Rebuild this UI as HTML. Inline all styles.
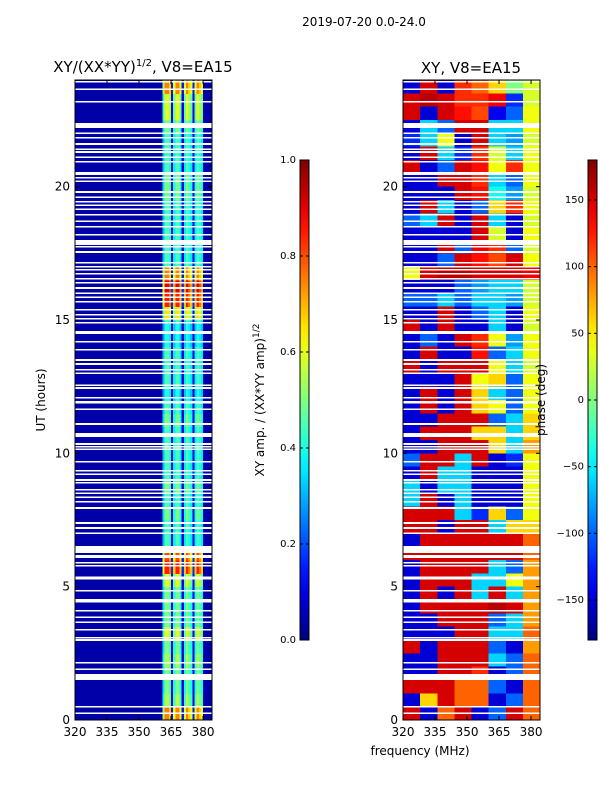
<!DOCTYPE html>
<html><head><meta charset="utf-8"><style>
body{margin:0;background:#fff;}
svg text{font-family:"DejaVu Sans","Liberation Sans",sans-serif;fill:#000;}
</style></head><body>
<svg id="fig" width="600" height="800" viewBox="0 0 600 800" xmlns="http://www.w3.org/2000/svg">
<text x="364" y="26" font-size="12" text-anchor="middle">2019-07-20 0.0-24.0</text>
<text x="143" y="72" font-size="15" text-anchor="middle">XY/(XX*YY)<tspan font-size="10" dy="-6">1/2</tspan><tspan dy="6">, V8=EA15</tspan></text>
<text x="471" y="73" font-size="15" text-anchor="middle">XY, V8=EA15</text>
<text transform="translate(45,400) rotate(-90)" font-size="12" text-anchor="middle">UT (hours)</text>
<text x="420" y="755" font-size="12" text-anchor="middle">frequency (MHz)</text>
<text transform="translate(264,400) rotate(-90)" font-size="12" text-anchor="middle">XY amp. / (XX*YY amp)<tspan font-size="9" dy="-5">1/2</tspan></text>
<rect x="75" y="80" width="137" height="640" fill="#00008f"/>
<g id="amp" shape-rendering="crispEdges"></g>
<g id="ph" shape-rendering="crispEdges"></g>
<g id="flags" shape-rendering="crispEdges"></g>
<g id="cb"></g>
<g id="axes"></g>
<text transform="translate(545,400) rotate(-90)" font-size="12" text-anchor="middle">phase (deg)</text>
</svg>
<script>
// ---- data ----
const freqStart = 320, freqEnd = 384.2, tHours = 24;
const xTicks = [320, 335, 350, 365, 380];
const yTicks = [0, 5, 10, 15, 20];
const ampTicks = [0.0, 0.2, 0.4, 0.6, 0.8, 1.0];
const phaseTicks = [-150, -100, -50, 0, 50, 100, 150];
// channel profile, 1 MHz channels 320..383
const chanProfile = [0,0,0,0,0,0,0,0,0,0,0,0,0,0,0,0,0,0,0,0,0,0,0,0,0,0,0,0,0,0,0,0,0,0,0,0,0,0,0,0,0,
  0.7,1,1,0.9,0.2,0.8,1,1,0.8,0.2,0.8,1,0.9,0.8,0.2,0.8,1,0.9,0.8, 0,0,0,0];
// amplitude level per half hour (0h upward)
const ampLevel = [0.75,0.55,0.5,0.5,0.55,0.5,0.6,0.5,0.5,0.5,0.6,0.85,0.8,0.45,0.45,0.5,0.45,0.5,0.45,0.45,0.45,0.45,0.5,0.45,
  0.4,0.45,0.45,0.45,0.4,0.4,0.65,0.85,0.9,0.75,0.45,0.45,0.45,0.45,0.45,0.5,0.5,0.45,0.45,0.45,0.5,0.6,0.6,0.75];
// phase grid: rows per half hour from 24h downward, 8 columns of 8 MHz
const phaseGrid = [
[-150,150,-150,120,100,60,0,30],[150,160,150,120,120,140,-120,30],[150,-150,150,130,110,-140,-100,40],
[-150,-60,-100,150,150,-60,-60,40],[-120,-60,40,-150,150,-60,-80,30],[-150,150,-60,-120,120,30,-60,40],
[150,-150,-100,150,130,40,120,40],[-150,-150,150,150,120,-60,-100,40],[-150,-150,-150,150,130,-40,-80,30],
[-150,150,-60,-150,-100,60,120,40],[-100,-60,150,-150,150,-60,-150,30],[-150,-150,-150,-150,150,30,-150,40],
[-150,-150,150,-100,140,120,-100,30],[-150,-150,-100,150,130,110,150,40],[40,150,160,160,150,150,150,140],
[-150,-150,-150,-100,-80,-60,-60,30],[-100,-100,-60,-100,-60,-60,-80,30],[-150,-150,150,-150,-100,-60,-150,40],
[150,-150,150,-150,-150,-60,-150,30],[-150,-100,-150,150,120,40,-80,40],[-150,150,-150,-150,130,-100,-60,40],
[150,-150,150,150,150,40,-60,30],[-150,-150,-150,150,40,60,-100,40],[-150,150,-150,150,60,-60,-100,40],
[-150,150,-150,150,60,40,-100,40],[-150,-150,150,150,150,-100,-60,60],[-150,150,150,150,60,60,-60,60],
[-150,-150,150,150,150,60,-60,80],[-100,150,150,-60,150,-150,-120,40],[-150,150,-60,-60,-150,-150,-150,40],
[-60,-150,-60,-60,-150,-150,-150,40],[-60,150,-150,-60,-150,-150,-150,40],[150,150,150,-60,-120,60,-100,40],
[150,150,-150,150,150,-60,60,60],[-150,150,150,150,150,150,150,100],[150,150,150,150,150,150,150,100],
[-150,150,150,150,150,-60,-100,80],[-150,150,150,150,-60,-60,40,80],[-150,150,-150,150,-60,150,-60,80],
[-150,150,150,150,150,160,150,80],[-150,-150,150,150,150,-100,-60,80],[-150,-150,-150,150,150,-60,-60,100],
[150,-150,150,150,150,-100,-150,80],[-150,-150,150,150,150,-60,-100,100],[-150,-150,150,150,120,-150,-100,100],
[150,150,150,100,100,-100,-150,100],[-150,60,150,100,100,-150,-100,100],[150,-150,100,150,-150,-100,150,100]];
// flagged rows: single-line centers (hours) and wide [start,end] intervals
const flagLines = [23.93,23.66,23.18,22.01,21.83,21.6,21.41,21.3,21.11,20.93,20.33,20.21,19.8,19.61,19.43,19.31,19.16,18.94,18.71,18.49,18.19,
 17.74,17.55,17.14,16.99,16.88,16.73,16.54,16.39,16.2,16.01,15.86,15.68,15.38,15.19,15.04,14.89,14.18,13.88,13.5,13.35,13.13,13.01,12.56,12.45,12.08,11.93,
 11.89,11.66,11.1,10.35,10.24,10.16,9.68,9.34,9.22,9.0,8.89,8.63,8.51,8.36,8.18,7.95,7.2,7.01,5.89,5.78,5.36,5.29,4.84,4.5,4.43,4.09,3.86,3.67,3.38,3.08,3.0,2.14,1.91,0.49,0.26];
const flagBands = [[22.2,22.39],[20.44,20.55],[17.81,18.0],[14.47,14.59],[10.61,10.76],[7.35,7.42],[6.26,6.53],[6.08,6.19],[1.5,1.72]];

// ---- layout ----
const NS = "http://www.w3.org/2000/svg";
const yTop = 80, yBot = 720;
const panels = [{x0:75,x1:212},{x0:403,x1:540}];
function yScale(h){ return yBot - (yBot-yTop)*h/tHours; }
function xScale(p,f){ return p.x0 + (p.x1-p.x0)*(f-freqStart)/(freqEnd-freqStart); }
function jet(v){
  v=Math.max(0,Math.min(1,v));
  const r=Math.max(0,Math.min(1,1.5-Math.abs(4*v-3)));
  const g=Math.max(0,Math.min(1,1.5-Math.abs(4*v-2)));
  const b=Math.max(0,Math.min(1,1.5-Math.abs(4*v-1)));
  return `rgb(${Math.round(r*255)},${Math.round(g*255)},${Math.round(b*255)})`;
}
function mk(tag, attrs, parent){ const e=document.createElementNS(NS,tag); for(const k in attrs) e.setAttribute(k,attrs[k]); parent.appendChild(e); return e; }

// amplitude heatmap
const ampG = document.getElementById('amp');
for(let i=0;i<ampLevel.length;i++){
  const y0=yScale(0.5*(i+1)), y1=yScale(0.5*i);
  for(let c=0;c<chanProfile.length;c++){
    const f0=freqStart+c, f1=Math.min(freqEnd,f0+1.05);
    const v = chanProfile[c]>0 ? ampLevel[i]*chanProfile[c] : 0.04;
    const r = mk('rect',{x:xScale(panels[0],f0),y:y0,width:xScale(panels[0],f1)-xScale(panels[0],f0)+0.5,height:y1-y0+0.5,fill:jet(v)},ampG);
    
    
  }
}
// phase heatmap
const phG = document.getElementById('ph');
const colW = (freqEnd-freqStart)/8;
for(let i=0;i<phaseGrid.length;i++){
  const y0=yScale(tHours-0.5*i), y1=yScale(tHours-0.5*(i+1));
  for(let c=0;c<8;c++){
    const f0=freqStart+c*colW, f1=f0+colW;
    const v=(phaseGrid[i][c]+180)/360;
    const r = mk('rect',{x:xScale(panels[1],f0),y:y0,width:xScale(panels[1],f1)-xScale(panels[1],f0)+0.5,height:y1-y0+0.5,fill:jet(v)},phG);
    
    
  }
}
// flags
const flG = document.getElementById('flags');
function flagRect(h0,h1){
  for(const p of panels){
    const r = mk('rect',{x:p.x0,y:yScale(h1),width:p.x1-p.x0,height:Math.max(1.4,yScale(h0)-yScale(h1)),fill:'#fff'},flG);
    
    
  }
}
flagLines.forEach(h=>flagRect(h-0.03,h+0.03));
flagBands.forEach(b=>flagRect(b[0],b[1]));

// colorbars
const cbG = document.getElementById('cb');
const defs = mk('defs',{},cbG);
const lg = mk('linearGradient',{id:'jetg',x1:0,y1:1,x2:0,y2:0},defs);
for(let k=0;k<=20;k++) mk('stop',{offset:k/20,'stop-color':jet(k/20)},lg);
const bars=[{x:300,ticks:ampTicks,min:0,max:1,fmt:v=>v.toFixed(1),name:'amp-colorbar'},{x:588,ticks:phaseTicks,min:-180,max:180,fmt:v=>v<0?'\u2212'+(-v):String(v),name:'phase-colorbar'}];
for(const b of bars){
  const r = mk('rect',{x:b.x,y:160,width:9,height:480,fill:'url(#jetg)',stroke:'#000','stroke-width':1},cbG);
  
  
  for(const t of b.ticks){
    const y=640-480*(t-b.min)/(b.max-b.min);
    mk('line',{x1:b.x,x2:b.x+3,y1:y,y2:y,stroke:'#000'},cbG);
    mk('line',{x1:b.x+9,x2:b.x+6,y1:y,y2:y,stroke:'#000'},cbG);
    const tx = mk('text',{x:b.x-4,y:y+3,'font-size':10,'text-anchor':'end'},cbG);
    tx.textContent=b.fmt(t);
    
    
  }
}

// axes
const axG = document.getElementById('axes');
for(const p of panels){
  mk('rect',{x:p.x0,y:yTop,width:p.x1-p.x0,height:yBot-yTop,fill:'none',stroke:'#000','stroke-width':1},axG);
  for(const t of yTicks){
    const y=yScale(t);
    mk('line',{x1:p.x0,x2:p.x0+4,y1:y,y2:y,stroke:'#000'},axG);
    mk('line',{x1:p.x1,x2:p.x1-4,y1:y,y2:y,stroke:'#000'},axG);
    const tx=mk('text',{x:p.x0-5,y:y+4,'font-size':12,'text-anchor':'end'},axG);
    tx.textContent=t;
    
    
  }
  for(const t of xTicks){
    const x=xScale(p,t);
    mk('line',{x1:x,x2:x,y1:yBot,y2:yBot-4,stroke:'#000'},axG);
    mk('line',{x1:x,x2:x,y1:yTop,y2:yTop+4,stroke:'#000'},axG);
    const tx=mk('text',{x:x,y:yBot+16,'font-size':12,'text-anchor':'middle'},axG);
    tx.textContent=t;
    
    
  }
}
</script>
</body></html>
